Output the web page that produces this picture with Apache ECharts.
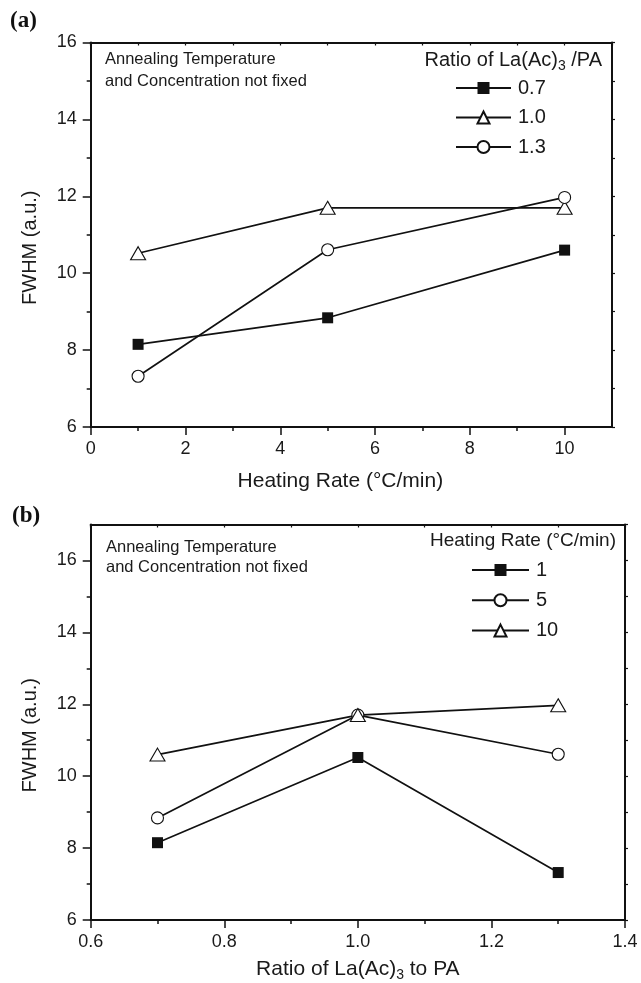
<!DOCTYPE html>
<html><head><meta charset="utf-8">
<script src="https://cdn.jsdelivr.net/npm/echarts@6/dist/echarts.min.js"></script>
<style>html,body{margin:0;padding:0;background:#fff}#c{width:641px;height:983px}</style>
</head><body><div id="c"></div>
<script>
// ---- data ----
const heatingRates = [1, 5, 10];
const ratiosLaAcPA = [0.7, 1.0, 1.3];
// Panel (a): FWHM vs heating rate, one series per La(Ac)3/PA ratio
const fwhmRatio07 = [8.15, 8.84, 10.6];
const fwhmRatio10 = [10.52, 11.7, 11.7];
const fwhmRatio13 = [7.32, 10.61, 11.97];
// Panel (b): FWHM vs ratio, one series per heating rate
const fwhmRate1 = [8.15, 10.52, 7.32];
const fwhmRate5 = [8.84, 11.7, 10.61];
const fwhmRate10 = [10.6, 11.7, 11.97];
// ticks
const aXTicks = [0, 2, 4, 6, 8, 10];
const aXMinor = [1, 3, 5, 7, 9];
const aYTicks = [6, 8, 10, 12, 14, 16];
const aYMinor = [7, 9, 11, 13, 15];
const bXTicks = [0.6, 0.8, 1.0, 1.2, 1.4];
const bXMinor = [0.7, 0.9, 1.1, 1.3];
const bYTicks = [6, 8, 10, 12, 14, 16];
const bYMinor = [7, 9, 11, 13, 15];

const FONT = '"Liberation Sans", Arial, Helvetica, sans-serif';
const INK = '#111';
const TXT = '#1a1a1a';

const chart = echarts.init(document.getElementById('c'), null, {renderer: 'canvas'});

const gA = {left: 90.7, top: 42.5, width: 521.3, height: 384.5, outerBoundsMode: 'none', containLabel: false};
const gB = {left: 90.7, top: 524.5, width: 534.3, height: 395.5, outerBoundsMode: 'none', containLabel: false};

function rng(a, b, step) { const r = []; for (let v = a; v <= b + 1e-9; v += step) r.push(+v.toFixed(4)); return r; }

function mainX(gi, min, max, ticks, name, nameGap, dec, namePad) {
  return {
    type: 'value', gridIndex: gi, position: 'bottom', min, max,
    axisLine: {show: true, onZero: false, lineStyle: {color: INK, width: 2}},
    axisTick: {show: true, inside: false, length: 8, customValues: ticks, lineStyle: {color: INK, width: 1.5}},
    axisLabel: {show: true, customValues: ticks, margin: 13, fontSize: 18, fontFamily: FONT, color: TXT,
      formatter: v => dec ? v.toFixed(dec) : String(v)},
    splitLine: {show: false},
    name, nameLocation: 'middle', nameGap,
    nameTextStyle: {fontSize: 21, fontFamily: FONT, color: TXT, padding: namePad || 0,
      rich: {a: {fontSize: 21, fontFamily: FONT, color: TXT, lineHeight: 26},
             s: {fontSize: 14, fontFamily: FONT, color: TXT, lineHeight: 14, verticalAlign: 'bottom'}}}
  };
}
function mainY(gi, min, max, ticks) {
  return {
    type: 'value', gridIndex: gi, position: 'left', min, max,
    axisLine: {show: true, onZero: false, lineStyle: {color: INK, width: 2}},
    axisTick: {show: true, inside: false, length: 8, customValues: ticks, lineStyle: {color: INK, width: 1.5}},
    axisLabel: {show: true, customValues: ticks, margin: 14, fontSize: 18, fontFamily: FONT, color: TXT},
    splitLine: {show: false},
    name: 'FWHM (a.u.)', nameLocation: 'middle', nameGap: 50, nameRotate: 90,
    nameTextStyle: {fontSize: 20, fontFamily: FONT, color: TXT, padding: [0, 26, 0, 0]}
  };
}
function frameX(gi, min, max, ticks) {
  return {type: 'value', gridIndex: gi, position: 'top', min, max,
    axisLine: {show: true, onZero: false, lineStyle: {color: INK, width: 2}},
    axisTick: {show: true, inside: true, length: 3, customValues: ticks, lineStyle: {color: INK, width: 1.2}},
    axisLabel: {show: false}, splitLine: {show: false}};
}
function frameY(gi, min, max, ticks) {
  return {type: 'value', gridIndex: gi, position: 'right', min, max,
    axisLine: {show: true, onZero: false, lineStyle: {color: INK, width: 2}},
    axisTick: {show: true, inside: false, length: 3, customValues: ticks, lineStyle: {color: INK, width: 1.2}},
    axisLabel: {show: false}, splitLine: {show: false}};
}
function minorX(gi, min, max, ticks) {
  return {type: 'value', gridIndex: gi, position: 'bottom', min, max,
    axisLine: {show: false, onZero: false},
    axisTick: {show: true, inside: false, length: 4, customValues: ticks, lineStyle: {color: INK, width: 1.5}},
    axisLabel: {show: false}, splitLine: {show: false}};
}
function minorY(gi, min, max, ticks) {
  return {type: 'value', gridIndex: gi, position: 'left', min, max,
    axisLine: {show: false, onZero: false},
    axisTick: {show: true, inside: false, length: 4, customValues: ticks, lineStyle: {color: INK, width: 1.5}},
    axisLabel: {show: false}, splitLine: {show: false}};
}

const SYM = {
  square: {symbol: 'rect', symbolSize: 11, itemStyle: {color: INK, borderColor: INK, borderWidth: 0}},
  triangle: {symbol: 'triangle', symbolSize: [15, 13], itemStyle: {color: '#fff', borderColor: INK, borderWidth: 1.1}},
  circle: {symbol: 'circle', symbolSize: 12, itemStyle: {color: '#fff', borderColor: INK, borderWidth: 1.1}}
};
function ser(name, xs, ys, kind, xi, yi) {
  const s = SYM[kind];
  return {
    type: 'line', name, xAxisIndex: xi, yAxisIndex: yi,
    data: xs.map((x, i) => [x, ys[i]]),
    symbol: s.symbol, symbolSize: s.symbolSize, showSymbol: true,
    itemStyle: s.itemStyle,
    lineStyle: {color: INK, width: 1.7},
    emphasis: {disabled: true}, animation: false, z: 5
  };
}

const legendCommon = {
  orient: 'vertical', padding: 0, itemWidth: 55, itemHeight: 15, itemGap: 9.5,
  textStyle: {fontSize: 20, fontFamily: FONT, color: TXT, lineHeight: 20, padding: [0, 0, 0, 2]},
  selectedMode: false
};

const option = {
  backgroundColor: '#fff',
  animation: false,
  grid: [gA, gA, gA, gB, gB, gB],
  xAxis: [
    mainX(0, 0, 11, aXTicks, 'Heating Rate (°C/min)', 44, 0, [0, 22, 0, 0]),
    frameX(1, 0, 11, rng(0, 11, 1)),
    minorX(2, 0, 11, aXMinor),
    mainX(3, 0.6, 1.4, bXTicks, '{a|Ratio of La(Ac)}{s|3}{a| to PA}', 36, 1),
    frameX(4, 0.6, 1.4, rng(0.6, 1.4, 0.1)),
    minorX(5, 0.6, 1.4, bXMinor)
  ],
  yAxis: [
    mainY(0, 6, 16, aYTicks),
    frameY(1, 6, 16, rng(6, 16, 1)),
    minorY(2, 6, 16, aYMinor),
    mainY(3, 6, 17, bYTicks),
    frameY(4, 6, 17, rng(6, 17, 1)),
    minorY(5, 6, 17, bYMinor)
  ],
  legend: [
    Object.assign({}, legendCommon, {left: 455, top: 78, data: ['0.7', '1.0', '1.3']}),
    Object.assign({}, legendCommon, {left: 471, top: 560, itemWidth: 57, itemGap: 10.3, data: ['1', '5', '10']})
  ],
  series: [
    ser('0.7', heatingRates, fwhmRatio07, 'square', 0, 0),
    ser('1.0', heatingRates, fwhmRatio10, 'triangle', 0, 0),
    ser('1.3', heatingRates, fwhmRatio13, 'circle', 0, 0),
    ser('1', ratiosLaAcPA, fwhmRate1, 'square', 3, 3),
    ser('5', ratiosLaAcPA, fwhmRate5, 'circle', 3, 3),
    ser('10', ratiosLaAcPA, fwhmRate10, 'triangle', 3, 3)
  ],
  graphic: [
    {type: 'text', x: 10, y: 10, style: {text: '(a)', font: 'bold 23px "Liberation Serif", "Times New Roman", serif', fill: '#111', verticalAlign: 'top'}},
    {type: 'text', x: 12, y: 505, style: {text: '(b)', font: 'bold 23px "Liberation Serif", "Times New Roman", serif', fill: '#111', verticalAlign: 'top'}},
    {type: 'text', x: 105, y: 49, style: {text: 'Annealing Temperature\nand Concentration not fixed', font: '16.5px ' + FONT, lineHeight: 21.7, fill: TXT, verticalAlign: 'top'}},
    {type: 'text', x: 106, y: 537, style: {text: 'Annealing Temperature\nand Concentration not fixed', font: '16.5px ' + FONT, lineHeight: 20, fill: TXT, verticalAlign: 'top'}},
    {type: 'text', x: 602, y: 47, style: {text: '{a|Ratio of La(Ac)}{s|3}{a| /PA}', align: 'right', verticalAlign: 'top',
      rich: {a: {fontSize: 20, fontFamily: FONT, fill: TXT, lineHeight: 26}, s: {fontSize: 14, fontFamily: FONT, fill: TXT, lineHeight: 14, verticalAlign: 'bottom'}}}},
    {type: 'text', x: 616, y: 531, style: {text: 'Heating Rate (°C/min)', align: 'right', verticalAlign: 'top', font: '19px ' + FONT, fill: TXT}}
  ]
};
chart.setOption(option);
</script>
</body></html>
